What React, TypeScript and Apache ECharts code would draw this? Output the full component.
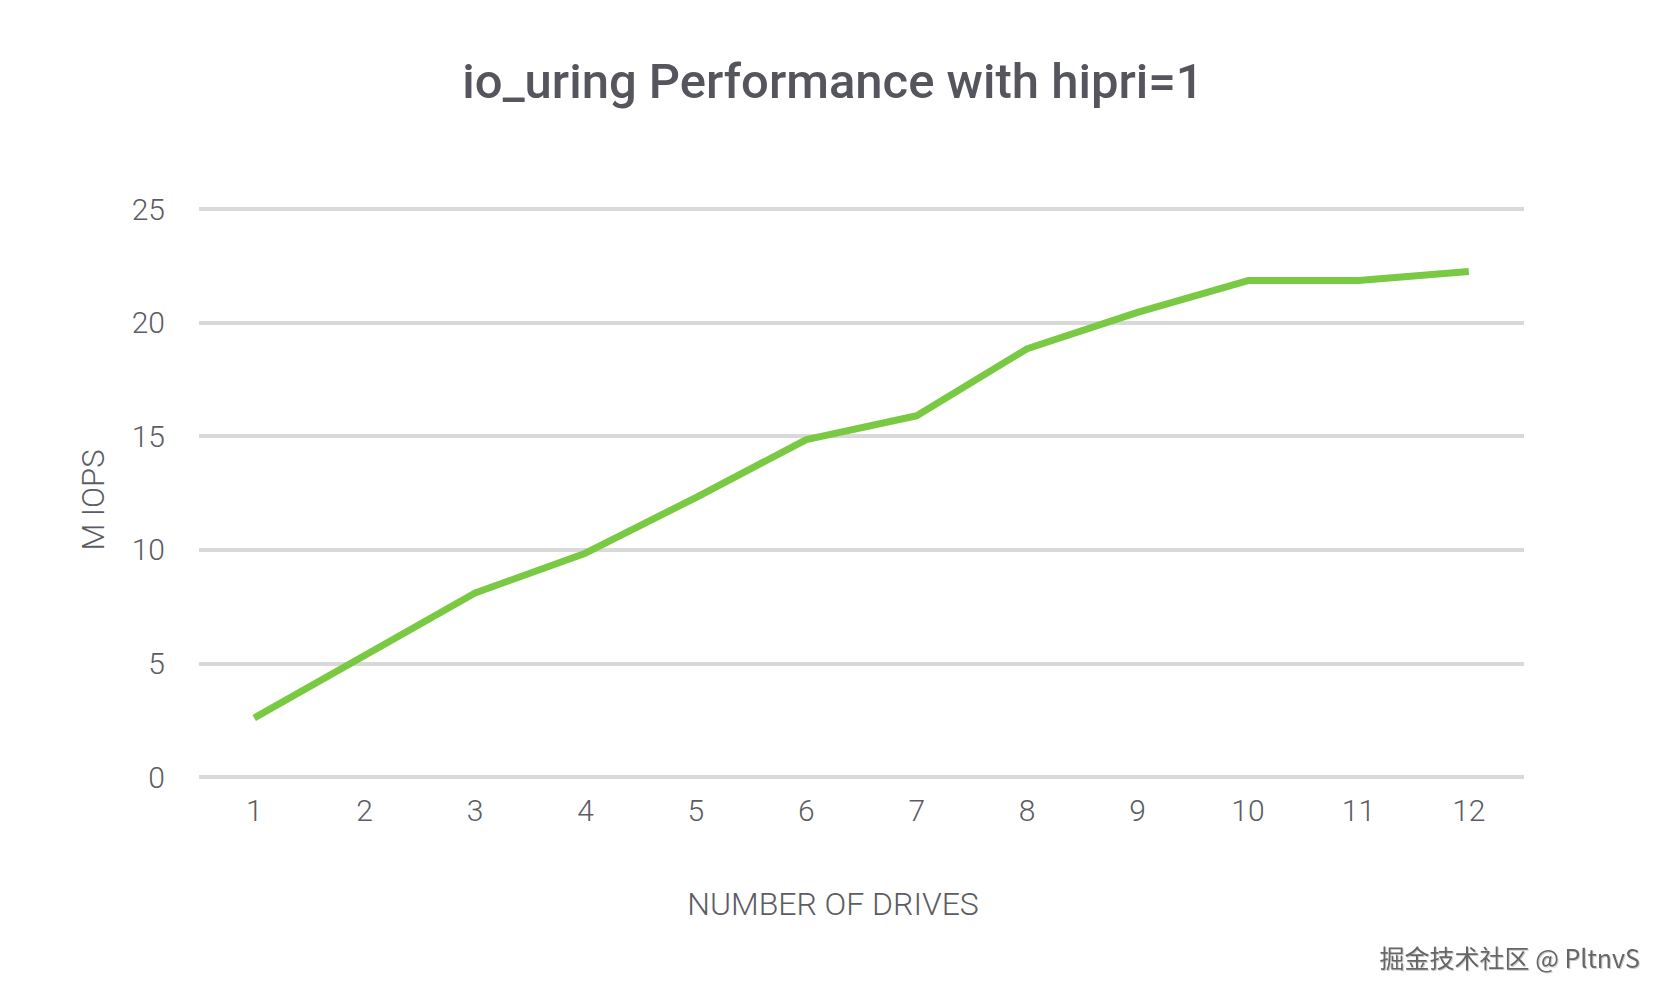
import React, { useEffect, useRef } from "react";
import * as echarts from "echarts";

const drives = ["1", "2", "3", "4", "5", "6", "7", "8", "9", "10", "11", "12"];
const miops = [2.6, 5.35, 8.1, 9.85, 12.3, 14.85, 15.9, 18.85, 20.45, 21.85, 21.85, 22.25];
const titleText = "io_uring Performance with hipri=1";
const yName = "M IOPS";
const xName = "NUMBER OF DRIVES";
const watermark = "掘金技术社区 @ PltnvS";

export default function App() {
  const ref = useRef<HTMLDivElement>(null);
  useEffect(() => {
    document.body.style.margin = "0";
    if (!ref.current) return;
    const chart = echarts.init(ref.current, null, { renderer: "svg" });
    const labelColor = "#5c5c63";
    const font = "Roboto, 'Noto Sans', sans-serif";
    chart.setOption({
      animation: false,
      backgroundColor: "#ffffff",
      title: {
        text: titleText,
        left: "center",
        top: 52,
        textStyle: {
          fontFamily: font,
          fontSize: 49,
          fontWeight: 500,
          color: "#55555d",
        },
      },
      grid: { left: 199, right: 142, top: 209, bottom: 223 },
      xAxis: {
        type: "category",
        data: drives,
        boundaryGap: true,
        axisLine: { show: false },
        axisTick: { show: false },
        axisLabel: { margin: 18, fontFamily: font, fontSize: 30, fontWeight: 300, color: labelColor },
      },
      yAxis: {
        type: "value",
        min: 0,
        max: 25,
        interval: 5,
        axisLine: { show: false },
        axisTick: { show: false },
        axisLabel: { margin: 34, fontFamily: font, fontSize: 30, fontWeight: 300, color: labelColor },
        splitLine: { lineStyle: { color: "#d9d9d9", width: 4 } },
      },
      series: [
        {
          type: "line",
          data: miops,
          symbol: "none",
          lineStyle: { color: "#7ac943", width: 7 },
        },
      ],
      graphic: [
        {
          type: "text",
          x: 833,
          y: 904,
          style: {
            text: xName,
            fontFamily: font,
            fontSize: 32,
            fontWeight: 300,
            fill: labelColor,
            textAlign: "center",
            textVerticalAlign: "middle",
          },
        },
        {
          type: "text",
          x: 93,
          y: 500,
          rotation: Math.PI / 2,
          style: {
            text: yName,
            fontFamily: font,
            fontSize: 31,
            fontWeight: 300,
            fill: labelColor,
            textAlign: "center",
            textVerticalAlign: "middle",
          },
        },
        {
          type: "text",
          right: 26,
          top: 944,
          style: {
            text: watermark,
            fontFamily: "'Noto Sans CJK SC', sans-serif",
            fontSize: 25,
            fontWeight: 400,
            fill: "#666666",
            textShadowColor: "rgba(0,0,0,0.2)",
            textShadowBlur: 1,
            textShadowOffsetX: 1,
            textShadowOffsetY: 1,
          },
        },
      ],
    });
    return () => chart.dispose();
  }, []);
  return <div ref={ref} style={{ width: 1666, height: 1000 }} />;
}
